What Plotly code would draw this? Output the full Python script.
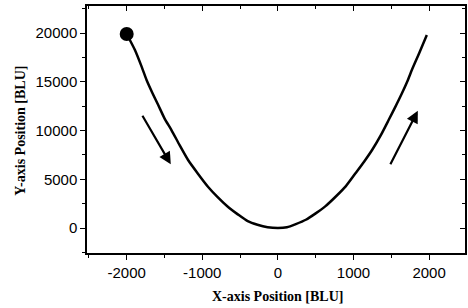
import plotly.graph_objects as go

# Trajectory points
x_pos = [-2000, -1891, -1800, -1737, -1660, -1583, -1500, -1408, -1300, -1188, -1060,
         -925, -800, -662, -530, -399, -270, -136, 0, 120, 237, 370, 500, 630, 763,
         900, 1026, 1140, 1246, 1360, 1465, 1555, 1641, 1710, 1772, 1870, 1970]
y_pos = [19900, 18256, 16500, 15180, 13850, 12615, 11250, 10051, 8500, 6974, 5600,
         4240, 3200, 2188, 1400, 700, 330, 80, 0, 75, 400, 850, 1505, 2250, 3210,
         4300, 5607, 6800, 8000, 9500, 11077, 12450, 13815, 15000, 16205, 17950, 19795]

# Start point
start_x = [-2000]
start_y = [19900]

# Direction arrows (tail -> tip)
arrow_tail_x = [-1803, 1478]
arrow_tail_y = [11662, 6390]
arrow_tip_x = [-1417, 1851]
arrow_tip_y = [6533, 12031]

x_range = [-2525, 2475]
y_range = [-2560, 22770]

fig = go.Figure()
fig.add_trace(go.Scatter(x=x_pos, y=y_pos, mode="lines",
                         line=dict(color="black", width=2.5, shape="spline", smoothing=0.6),
                         showlegend=False, hoverinfo="skip"))
fig.add_trace(go.Scatter(x=start_x, y=start_y, mode="markers",
                         marker=dict(color="black", size=14),
                         showlegend=False, hoverinfo="skip"))
# invisible trace to anchor mirror axes
fig.add_trace(go.Scatter(x=start_x, y=start_y, xaxis="x2", yaxis="y2",
                         mode="markers", marker=dict(opacity=0),
                         showlegend=False, hoverinfo="skip"))

for tx, ty, hx, hy in zip(arrow_tail_x, arrow_tail_y, arrow_tip_x, arrow_tip_y):
    fig.add_annotation(x=hx, y=hy, ax=tx, ay=ty, xref="x", yref="y",
                       axref="x", ayref="y", showarrow=True, text="",
                       arrowhead=2, arrowsize=1.1, arrowwidth=2.2,
                       arrowcolor="black")

tickfont = dict(family="Liberation Sans, Arial, sans-serif", size=15, color="black")
titlefont = dict(family="Liberation Serif, Times New Roman, serif", size=14, color="black")

fig.add_annotation(text="<b>X-axis Position [BLU]</b>", xref="paper", yref="paper",
                   x=0.505, y=0, yshift=-43, xanchor="center", yanchor="middle",
                   showarrow=False, font=titlefont)
fig.add_annotation(text="<b>Y-axis Position [BLU]</b>", xref="paper", yref="paper",
                   x=0, xshift=-66, y=0.495, xanchor="center", yanchor="middle",
                   textangle=-90, showarrow=False, font=titlefont)

fig.update_layout(
    width=468, height=308,
    margin=dict(l=87, r=3, t=6, b=55),
    paper_bgcolor="white", plot_bgcolor="white",
    xaxis=dict(range=x_range, tickvals=[-2000, -1000, 0, 1000, 2000],
               ticktext=["-2000", "-1000", "0", "1000", "2000"],
               ticks="outside", ticklen=5, tickwidth=1.2, tickcolor="black",
               minor=dict(dtick=500, tick0=0, ticks="outside", ticklen=3, tickcolor="black"),
               showline=True, linecolor="black", linewidth=1.5, automargin=False,
               showgrid=False, zeroline=False, tickfont=tickfont),
    yaxis=dict(range=y_range, tickvals=[0, 5000, 10000, 15000, 20000],
               ticktext=["0", "5000", "10000", "15000", "20000"],
               ticks="outside", ticklen=5, tickwidth=1.2, tickcolor="black",
               minor=dict(dtick=2500, tick0=0, ticks="outside", ticklen=3, tickcolor="black"),
               showline=True, linecolor="black", linewidth=1.5, automargin=False,
               showgrid=False, zeroline=False, tickfont=tickfont),
    xaxis2=dict(range=x_range, overlaying="x", side="top", anchor="y2",
                tickvals=[-2000, -1000, 0, 1000, 2000], automargin=False,
                ticks="inside", ticklen=5, tickcolor="black", showticklabels=False,
                minor=dict(dtick=500, tick0=0, ticks="inside", ticklen=3, tickcolor="black"),
                showline=True, linecolor="black", linewidth=1.5,
                showgrid=False, zeroline=False),
    yaxis2=dict(range=y_range, overlaying="y", side="right", anchor="x2",
                tickvals=[0, 5000, 10000, 15000, 20000], automargin=False,
                ticks="inside", ticklen=5, tickcolor="black", showticklabels=False,
                minor=dict(dtick=2500, tick0=0, ticks="inside", ticklen=3, tickcolor="black"),
                showline=True, linecolor="black", linewidth=1.5,
                showgrid=False, zeroline=False),
)

fig.write_html("out.html", config={"displayModeBar": False},
               post_script="document.body.style.margin='0px';")
